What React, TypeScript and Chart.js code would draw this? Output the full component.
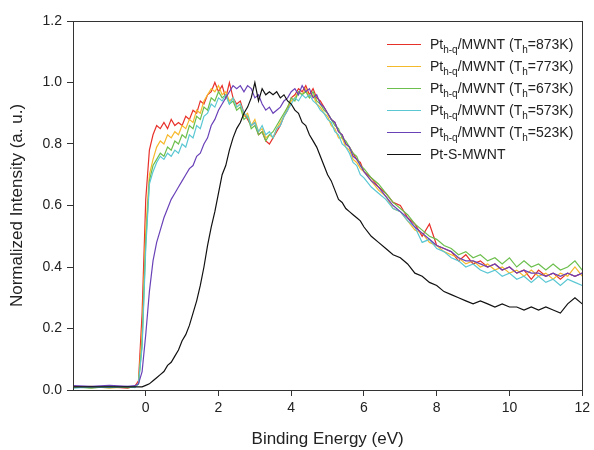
import React, { useEffect, useRef } from "react";
import { Chart, registerables } from "chart.js";

Chart.register(...registerables);

const energy = [
  -2, -1.5, -1, -0.5, -0.3, -0.2, -0.1,
  0.0, 0.1, 0.2, 0.3, 0.4, 0.5, 0.6, 0.7, 0.8, 0.9,
  1.0, 1.1, 1.2, 1.3, 1.4, 1.5, 1.6, 1.7, 1.8, 1.9,
  2.0, 2.1, 2.2, 2.3, 2.4, 2.5, 2.6, 2.7, 2.8, 2.9,
  3.0, 3.1, 3.2, 3.3, 3.4, 3.5, 3.6, 3.7, 3.8, 3.9,
  4.0, 4.1, 4.2, 4.3, 4.4, 4.5, 4.6, 4.7, 4.8, 4.9,
  5.0, 5.1, 5.2, 5.3, 5.4, 5.5, 5.6, 5.7, 5.8, 5.9,
  6.0, 6.2, 6.4, 6.6, 6.8, 7.0, 7.2, 7.4, 7.6, 7.8,
  8.0, 8.2, 8.4, 8.6, 8.8, 9.0, 9.2, 9.4, 9.6, 9.8,
  10.0, 10.2, 10.4, 10.6, 10.8, 11.0, 11.2, 11.4, 11.6, 11.8,
  12.0,
];

const s873 = [
  0.012, 0.008, 0.010, 0.006, 0.012, 0.03, 0.25,
  0.62, 0.78, 0.83, 0.86, 0.85, 0.87, 0.85, 0.88, 0.86, 0.87,
  0.86, 0.89, 0.88, 0.91, 0.90, 0.94, 0.93, 0.96, 0.97, 1.00,
  0.97, 0.99, 0.95, 1.00, 0.95, 0.93, 0.94, 0.90, 0.88, 0.86,
  0.87, 0.83, 0.84, 0.81, 0.80, 0.82, 0.84, 0.86, 0.89, 0.91,
  0.95, 0.96, 0.98, 0.97, 0.99, 0.96, 0.98, 0.95, 0.94, 0.92,
  0.90, 0.88, 0.87, 0.84, 0.83, 0.80, 0.79, 0.77, 0.75, 0.74,
  0.71, 0.69, 0.66, 0.64, 0.61, 0.60, 0.56, 0.54, 0.50, 0.54,
  0.47, 0.46, 0.45, 0.42, 0.44, 0.41, 0.42, 0.40, 0.41, 0.39,
  0.40, 0.38, 0.39, 0.36, 0.39, 0.37, 0.38, 0.36, 0.38, 0.37,
  0.38,
];

const s773 = [
  0.008, 0.012, 0.006, 0.010, 0.010, 0.02, 0.18,
  0.52, 0.70, 0.75, 0.79, 0.81, 0.80, 0.83, 0.82, 0.84, 0.83,
  0.86, 0.85, 0.88, 0.87, 0.91, 0.90, 0.94, 0.96, 0.98, 0.97,
  0.99, 0.96, 0.97, 0.94, 0.95, 0.92, 0.93, 0.89, 0.90, 0.86,
  0.88, 0.84, 0.85, 0.82, 0.83, 0.82, 0.85, 0.87, 0.89, 0.92,
  0.94, 0.95, 0.97, 0.96, 0.98, 0.95, 0.96, 0.93, 0.92, 0.90,
  0.89, 0.86, 0.85, 0.82, 0.82, 0.79, 0.78, 0.75, 0.74, 0.72,
  0.71, 0.68, 0.65, 0.63, 0.59, 0.58, 0.55, 0.52, 0.51, 0.48,
  0.47, 0.45, 0.44, 0.43, 0.41, 0.42, 0.40, 0.41, 0.39, 0.40,
  0.38, 0.39, 0.37, 0.39, 0.37, 0.38, 0.36, 0.38, 0.37, 0.40,
  0.37,
];

const s673 = [
  0.010, 0.006, 0.012, 0.008, 0.010, 0.02, 0.15,
  0.48, 0.68, 0.73, 0.75, 0.77, 0.76, 0.79, 0.78, 0.81, 0.80,
  0.83, 0.82, 0.86, 0.85, 0.89, 0.88, 0.92, 0.91, 0.95, 0.94,
  0.97, 0.95, 0.96, 0.93, 0.94, 0.91, 0.92, 0.88, 0.89, 0.85,
  0.86, 0.83, 0.84, 0.81, 0.83, 0.84, 0.86, 0.88, 0.90, 0.92,
  0.95, 0.94, 0.97, 0.96, 0.97, 0.95, 0.97, 0.94, 0.93, 0.91,
  0.90, 0.88, 0.86, 0.85, 0.82, 0.81, 0.79, 0.77, 0.76, 0.73,
  0.72, 0.69, 0.67, 0.64, 0.61, 0.59, 0.57, 0.54, 0.52, 0.50,
  0.49, 0.47, 0.46, 0.44, 0.45, 0.43, 0.44, 0.42, 0.43, 0.41,
  0.43, 0.40, 0.42, 0.40, 0.41, 0.39, 0.41, 0.39, 0.40, 0.42,
  0.39,
];

const s573 = [
  0.006, 0.010, 0.008, 0.012, 0.008, 0.02, 0.14,
  0.46, 0.67, 0.71, 0.74, 0.76, 0.75, 0.77, 0.76, 0.78, 0.77,
  0.80, 0.79, 0.83, 0.82, 0.86, 0.85, 0.89, 0.90, 0.93, 0.92,
  0.95, 0.94, 0.96, 0.93, 0.95, 0.92, 0.93, 0.90, 0.89, 0.86,
  0.87, 0.84, 0.86, 0.83, 0.84, 0.82, 0.85, 0.86, 0.89, 0.91,
  0.93, 0.95, 0.94, 0.96, 0.95, 0.96, 0.94, 0.93, 0.91, 0.90,
  0.88, 0.87, 0.84, 0.83, 0.80, 0.79, 0.77, 0.74, 0.73, 0.70,
  0.69, 0.66, 0.64, 0.62, 0.59, 0.58, 0.55, 0.53, 0.48, 0.49,
  0.46, 0.45, 0.43, 0.42, 0.40, 0.41, 0.39, 0.38, 0.39, 0.37,
  0.38, 0.36, 0.37, 0.35, 0.37, 0.35, 0.36, 0.34, 0.36, 0.35,
  0.34,
];

const s523 = [
  0.014, 0.012, 0.015, 0.012, 0.014, 0.02, 0.06,
  0.18, 0.32, 0.42, 0.48, 0.52, 0.56, 0.59, 0.62, 0.64, 0.66,
  0.68, 0.70, 0.72, 0.73, 0.76, 0.77, 0.80, 0.82, 0.86, 0.88,
  0.91, 0.93, 0.95, 0.97, 0.99, 0.98, 0.99, 0.97, 0.99, 0.98,
  0.95, 0.96, 0.93, 0.91, 0.92, 0.90, 0.91, 0.92, 0.94, 0.95,
  0.97, 0.98, 0.96, 0.99, 0.97, 0.98, 0.95, 0.96, 0.93, 0.92,
  0.90, 0.88, 0.87, 0.84, 0.83, 0.80, 0.79, 0.76, 0.75, 0.73,
  0.71, 0.68, 0.66, 0.63, 0.60, 0.58, 0.56, 0.53, 0.51, 0.49,
  0.47, 0.46, 0.45, 0.43, 0.42, 0.42, 0.41, 0.40, 0.41, 0.39,
  0.40, 0.38, 0.39, 0.38, 0.38, 0.37, 0.38, 0.37, 0.38, 0.37,
  0.38,
];

const sPtS = [
  0.010, 0.010, 0.010, 0.010, 0.010, 0.010, 0.010,
  0.015, 0.02, 0.03, 0.04, 0.05, 0.06, 0.08, 0.09, 0.11, 0.13,
  0.16, 0.18, 0.21, 0.25, 0.29, 0.34, 0.40, 0.47, 0.53, 0.58,
  0.64, 0.70, 0.73, 0.78, 0.82, 0.85, 0.87, 0.90, 0.92, 0.95,
  1.00, 0.94, 0.98, 0.96, 0.97, 0.96, 0.97, 0.95, 0.96, 0.94,
  0.93, 0.91, 0.90, 0.87, 0.86, 0.83, 0.81, 0.79, 0.76, 0.73,
  0.70, 0.68, 0.65, 0.62, 0.61, 0.59, 0.58, 0.57, 0.56, 0.55,
  0.53, 0.50, 0.48, 0.46, 0.44, 0.43, 0.41, 0.38, 0.37, 0.35,
  0.34, 0.32, 0.31, 0.30, 0.29, 0.28, 0.29, 0.28, 0.27, 0.28,
  0.27, 0.27, 0.26, 0.27, 0.26, 0.27, 0.26, 0.25, 0.28, 0.30,
  0.28,
];

const seriesLabels = [
  "Pt_{h-q}/MWNT (T_{h}=873K)",
  "Pt_{h-q}/MWNT (T_{h}=773K)",
  "Pt_{h-q}/MWNT (T_{h}=673K)",
  "Pt_{h-q}/MWNT (T_{h}=573K)",
  "Pt_{h-q}/MWNT (T_{h}=523K)",
  "Pt-S-MWNT",
];
const seriesValues = [s873, s773, s673, s573, s523, sPtS];
const seriesColors = ["#e8302a", "#f6b92b", "#6cbf4c", "#5ac7d3", "#6a42b8", "#111111"];

const yTicks = [0, 0.2, 0.4, 0.6, 0.8, 1.0, 1.2];
const xTicks = [0, 2, 4, 6, 8, 10, 12];

const FONT = "'Liberation Sans', Arial, sans-serif";

function parseLabel(label: string) {
  const parts: { t: string; sub: boolean }[] = [];
  const re = /_\{([^}]*)\}/g;
  let last = 0;
  let m: RegExpExecArray | null;
  while ((m = re.exec(label)) !== null) {
    if (m.index > last) parts.push({ t: label.slice(last, m.index), sub: false });
    parts.push({ t: m[1], sub: true });
    last = m.index + m[0].length;
  }
  if (last < label.length) parts.push({ t: label.slice(last), sub: false });
  return parts;
}

const framePlugin = {
  id: "frame",
  afterDatasetsDraw(chart: any) {
    const { ctx, chartArea } = chart;
    ctx.save();
    ctx.strokeStyle = "#333";
    ctx.lineWidth = 1;
    ctx.strokeRect(
      Math.round(chartArea.left) + 0.5,
      Math.round(chartArea.top) + 0.5,
      Math.round(chartArea.right - chartArea.left),
      Math.round(chartArea.bottom - chartArea.top)
    );
    ctx.restore();
  },
};

const legendPlugin = {
  id: "subLegend",
  afterDraw(chart: any) {
    const ctx = chart.ctx;
    ctx.save();
    seriesLabels.forEach((label, i) => {
      const rowY = 44 + i * 22;
      ctx.strokeStyle = seriesColors[i];
      ctx.lineWidth = 1.2;
      ctx.beginPath();
      ctx.moveTo(387, rowY + 0.5);
      ctx.lineTo(421, rowY + 0.5);
      ctx.stroke();
      let x = 430;
      ctx.fillStyle = "#222";
      ctx.textBaseline = "alphabetic";
      ctx.textAlign = "left";
      for (const p of parseLabel(label)) {
        if (p.sub) {
          ctx.font = `10px ${FONT}`;
          ctx.fillText(p.t, x, rowY + 9);
        } else {
          ctx.font = `14px ${FONT}`;
          ctx.fillText(p.t, x, rowY + 5);
        }
        x += ctx.measureText(p.t).width;
      }
    });
    ctx.restore();
  },
};

export default function App() {
  const canvasRef = useRef<HTMLCanvasElement | null>(null);

  useEffect(() => {
    if (!canvasRef.current) return;
    const datasets = seriesValues.map((vals, i) => ({
      label: seriesLabels[i],
      data: energy.map((e, j) => ({ x: e, y: vals[j] })),
      borderColor: seriesColors[i],
      backgroundColor: seriesColors[i],
      borderWidth: 1.2,
      pointRadius: 0,
      tension: 0,
      fill: false,
      order: 6 - i,
    }));
    const chart = new Chart(canvasRef.current, {
      type: "line",
      data: { datasets },
      plugins: [framePlugin, legendPlugin],
      options: {
        animation: false,
        responsive: false,
        maintainAspectRatio: false,
        layout: { padding: { left: 0, right: 7, top: 21, bottom: 0 } },
        plugins: {
          legend: { display: false },
          tooltip: { enabled: false },
        },
        scales: {
          x: {
            type: "linear",
            min: -2,
            max: 12,
            afterBuildTicks: (scale: any) => {
              scale.ticks = xTicks.map((v) => ({ value: v }));
            },
            afterFit: (scale: any) => {
              scale.height = 60;
            },
            ticks: {
              color: "#222",
              font: { family: FONT, size: 14 },
              padding: 4,
              maxRotation: 0,
              callback: (v: any) => String(v),
            },
            grid: {
              drawOnChartArea: false,
              drawTicks: true,
              tickLength: 6,
              color: "#333",
            },
            border: { display: true, color: "#333" },
            title: {
              display: true,
              text: "Binding Energy (eV)",
              color: "#222",
              font: { family: FONT, size: 17 },
              padding: { top: 0, bottom: 0 },
            },
          },
          y: {
            type: "linear",
            min: 0,
            max: 1.2,
            afterBuildTicks: (scale: any) => {
              scale.ticks = yTicks.map((v) => ({ value: v }));
            },
            afterFit: (scale: any) => {
              scale.width = 73;
            },
            ticks: {
              color: "#222",
              font: { family: FONT, size: 14 },
              padding: 5,
              callback: (v: any) => Number(v).toFixed(1),
            },
            grid: {
              drawOnChartArea: false,
              drawTicks: true,
              tickLength: 6,
              color: "#333",
            },
            border: { display: true, color: "#333" },
            title: {
              display: true,
              text: "Normalized Intensity (a. u.)",
              color: "#222",
              font: { family: FONT, size: 17 },
              padding: { top: 7, bottom: 0 },
            },
          },
        },
      },
    });
    return () => chart.destroy();
  }, []);

  return (
    <div style={{ position: "fixed", left: 0, top: 0, width: 594, height: 450, background: "#fff" }}>
      <canvas ref={canvasRef} width={594} height={450} style={{ width: 594, height: 450 }} />
    </div>
  );
}
